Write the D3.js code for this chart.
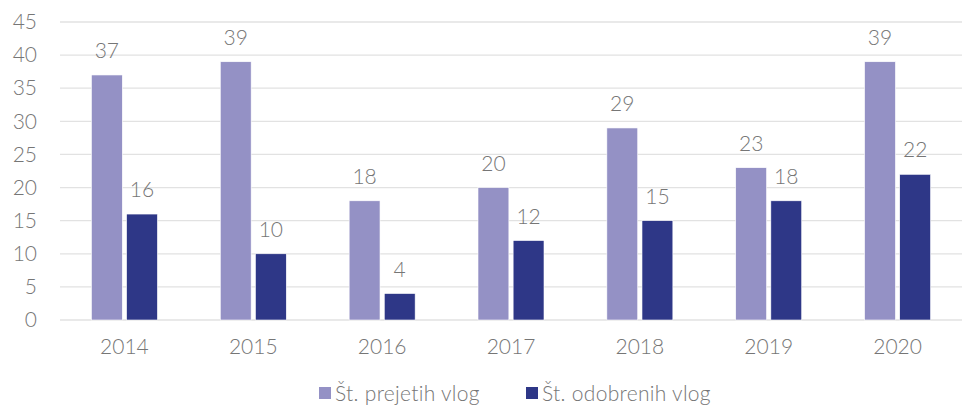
<!DOCTYPE html>
<html>
<head>
<meta charset="utf-8">
<script src="https://cdn.jsdelivr.net/npm/d3@7"></script>
<style>
  html, body { margin: 0; padding: 0; background: #fff; }
  svg { display: block; font-family: Lato, "Open Sans", sans-serif; font-weight: 300; }
</style>
</head>
<body>
<svg id="chart" width="964" height="407"></svg>
<script>
// Applications per year: received vs approved
const years = ["2014", "2015", "2016", "2017", "2018", "2019", "2020"];
const received = [37, 39, 18, 20, 29, 23, 39];
const approved = [16, 10, 4, 12, 15, 18, 22];
const seriesNames = ["Št. prejetih vlog", "Št. odobrenih vlog"];
const seriesColors = ["#9491C5", "#2E3787"];
const yTicks = [0, 5, 10, 15, 20, 25, 30, 35, 40, 45];

const svg = d3.select("#chart");
const plot = { left: 60, right: 962, top: 22, bottom: 320 };
const textColor = "#767676";
const fontSize = 21;

const x = d3.scaleBand().domain(years).range([plot.left, plot.right]).padding(0);
const y = d3.scaleLinear().domain([0, 45]).range([plot.bottom, plot.top]);
const xs = d3.scaleBand().domain([0, 1]).range([-33, 33]).paddingInner(8 / 66);

// grid lines
svg.append("g").selectAll("line").data(yTicks).join("line")
  .attr("x1", plot.left).attr("x2", plot.right)
  .attr("y1", d => y(d)).attr("y2", d => y(d))
  .attr("stroke", "#e2e2e2").attr("stroke-width", 1.3);

// y axis labels
const yAxis = svg.append("g").attr("transform", `translate(${plot.left},0)`)
  .call(d3.axisLeft(y).tickValues(yTicks).tickSize(0).tickPadding(23));
yAxis.select(".domain").remove();
yAxis.selectAll("text").attr("fill", textColor).attr("font-size", fontSize)
  .attr("font-family", "Lato, sans-serif");

// x axis labels
const xAxis = svg.append("g").attr("transform", `translate(0,${plot.bottom})`)
  .call(d3.axisBottom(x).tickSize(0).tickPadding(19));
xAxis.select(".domain").remove();
xAxis.selectAll("text").attr("fill", textColor).attr("font-size", fontSize)
  .attr("font-family", "Lato, sans-serif");

const data = years.map((yr, i) => ({ yr, vals: [received[i], approved[i]] }));

const groups = svg.append("g").selectAll("g").data(data).join("g")
  .attr("transform", d => `translate(${x(d.yr) + x.bandwidth() / 2},0)`);

groups.selectAll("rect").data(d => d.vals.map((v, k) => ({ v, k }))).join("rect")
  .attr("x", d => xs(d.k))
  .attr("width", xs.bandwidth())
  .attr("y", d => y(d.v))
  .attr("height", d => y(0) - y(d.v))
  .attr("fill", d => seriesColors[d.k])
  .attr("stroke", "#ffffff").attr("stroke-width", 0.6);

groups.selectAll("text.val").data(d => d.vals.map((v, k) => ({ v, k }))).join("text")
  .attr("class", "val")
  .attr("x", d => xs(d.k) + xs.bandwidth() / 2)
  .attr("y", d => y(d.v) - 17)
  .attr("text-anchor", "middle")
  .attr("fill", textColor).attr("font-size", fontSize)
  .text(d => d.v);

// legend
const legendX = [319, 526];
const legend = svg.append("g").selectAll("g").data(seriesNames).join("g")
  .attr("transform", (d, i) => `translate(${legendX[i]},387)`);
legend.append("rect").attr("width", 12).attr("height", 12)
  .attr("fill", (d, i) => seriesColors[i]);
legend.append("text").attr("x", 16).attr("y", 14)
  .attr("fill", textColor).attr("font-size", fontSize)
  .style("letter-spacing", "0.3px")
  .text(d => d);
</script>
</body>
</html>
